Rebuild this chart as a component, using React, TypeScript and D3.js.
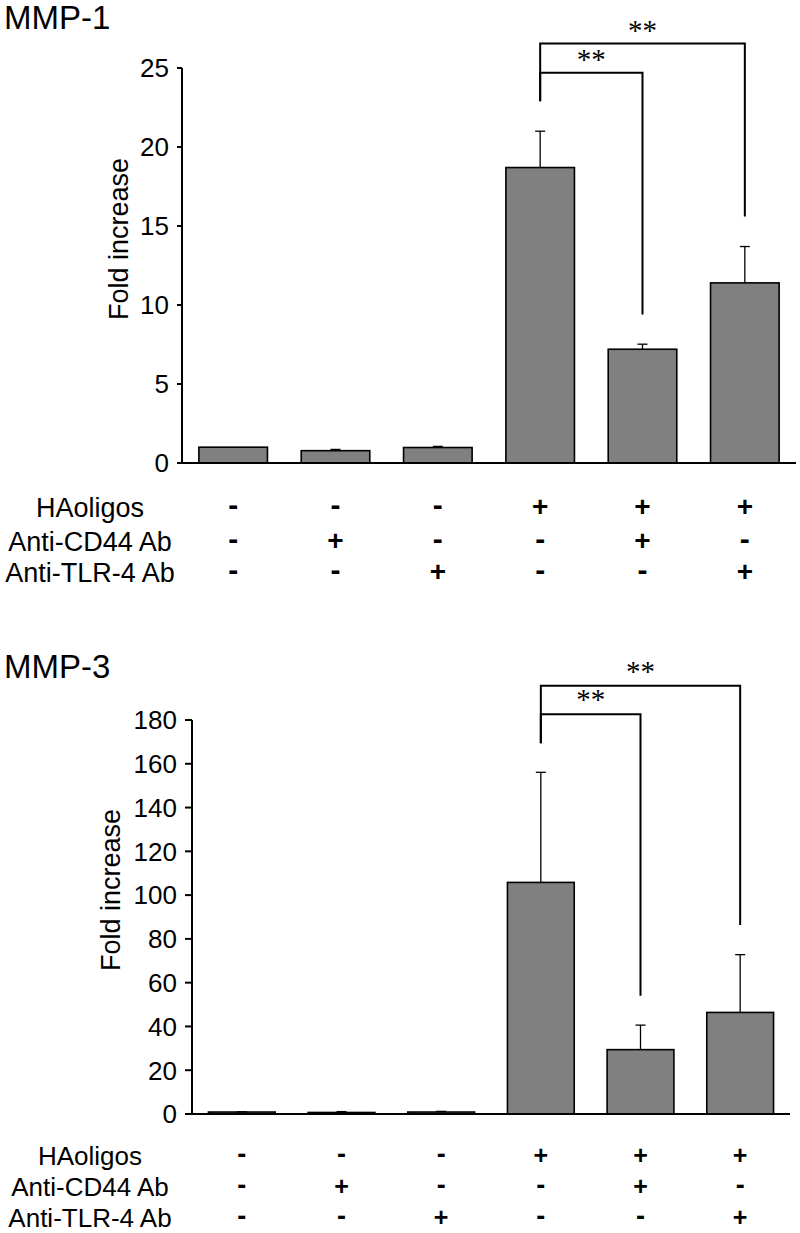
import React from "react";
import * as d3 from "d3";

// ---------- data ----------
const conditions = ["c1", "c2", "c3", "c4", "c5", "c6"];
const rowLabels = ["HAoligos", "Anti-CD44 Ab", "Anti-TLR-4 Ab"];
const haOligos = ["-", "-", "-", "+", "+", "+"];
const antiCD44 = ["-", "+", "-", "-", "+", "-"];
const antiTLR4 = ["-", "-", "+", "-", "-", "+"];

const mmp1Values = [1.0, 0.78, 0.98, 18.7, 7.2, 11.4];
const mmp1Errors = [0.0, 0.08, 0.07, 2.3, 0.32, 2.3];
const mmp1Ticks = [0, 5, 10, 15, 20, 25];

const mmp3Values = [0.9, 0.7, 0.9, 105.8, 29.4, 46.4];
const mmp3Errors = [0.1, 0.4, 0.3, 50.3, 11.2, 26.4];
const mmp3Ticks = [0, 20, 40, 60, 80, 100, 120, 140, 160, 180];

// brackets: [fromIndex, toIndex, levelValue, leftEndValue, rightEndValue, label]
const mmp1Brackets: [number, number, number, number, number, string][] = [
  [3, 4, 24.7, 22.9, 9.4, "**"],
  [3, 5, 26.55, 22.9, 15.6, "**"],
];
const mmp3Brackets: [number, number, number, number, number, string][] = [
  [3, 4, 182.6, 169.4, 54, "**"],
  [3, 5, 195.7, 169.4, 86.4, "**"],
];

const FONT = "'Liberation Sans', Arial, Helvetica, sans-serif";

type PanelProps = {
  title: string;
  titleY: number;
  values: number[];
  errors: number[];
  ticks: number[];
  domainMax: number;
  brackets: [number, number, number, number, number, string][];
  x0: number;
  x1: number;
  yTop: number;
  yBottom: number;
  tickLen: number;
  labelX: number;
  labelY: number;
  rowYs: number[];
  starOffset: number;
  tableFont: number;
  signFont: number;
};

function Panel(p: PanelProps) {
  const x = d3.scaleBand<string>().domain(conditions).range([p.x0, p.x1]).paddingInner(0.33).paddingOuter(0.165);
  const y = d3.scaleLinear().domain([0, p.domainMax]).range([p.yBottom, p.yTop]);
  const cx = (i: number) => (x(conditions[i]) as number) + x.bandwidth() / 2;
  const rows = [haOligos, antiCD44, antiTLR4];
  return (
    <g>
      <text x={4} y={p.titleY} fontFamily={FONT} fontSize={33} fill="#000">{p.title}</text>
      {/* bars */}
      {p.values.map((v, i) => (
        <rect key={"b" + i} x={x(conditions[i])} y={y(v)} width={x.bandwidth()} height={y(0) - y(v)}
          fill="#808080" stroke="#000" strokeWidth={1.6} />
      ))}
      {/* error bars */}
      {p.values.map((v, i) => (
        p.errors[i] > 0 ? (
          <g key={"e" + i} stroke="#000" strokeWidth={1.3}>
            <line x1={cx(i)} x2={cx(i)} y1={y(v)} y2={y(v + p.errors[i])} />
            <line x1={cx(i) - 5} x2={cx(i) + 5} y1={y(v + p.errors[i])} y2={y(v + p.errors[i])} />
          </g>
        ) : null
      ))}
      {/* axes */}
      <line x1={p.x0} x2={p.x0} y1={y(0)} y2={y(p.domainMax)} stroke="#000" strokeWidth={2} />
      <line x1={p.x0 - p.tickLen} x2={p.x1} y1={y(0)} y2={y(0)} stroke="#000" strokeWidth={2} />
      {p.ticks.map((t) => (
        <g key={"t" + t}>
          <line x1={p.x0 - p.tickLen} x2={p.x0} y1={y(t)} y2={y(t)} stroke="#000" strokeWidth={2} />
          <text x={p.x0 - p.tickLen - 8} y={y(t)} dy="0.36em" textAnchor="end" fontFamily={FONT} fontSize={26} fill="#000">{t}</text>
        </g>
      ))}
      <text transform={`translate(${p.labelX},${p.labelY}) rotate(-90)`} textAnchor="middle" dy="0.36em"
        fontFamily={FONT} fontSize={27} fill="#000">Fold increase</text>
      {/* brackets */}
      {p.brackets.map((b, k) => {
        const path = d3.path();
        path.moveTo(cx(b[0]), y(b[3]));
        path.lineTo(cx(b[0]), y(b[2]));
        path.lineTo(cx(b[1]), y(b[2]));
        path.lineTo(cx(b[1]), y(b[4]));
        return (
          <g key={"br" + k}>
            <path d={path.toString()} fill="none" stroke="#000" strokeWidth={2} />
            <text x={(cx(b[0]) + cx(b[1])) / 2} y={y(b[2]) - p.starOffset} textAnchor="middle"
              fontFamily="'Liberation Serif', 'Times New Roman', serif" fontSize={29} fill="#000">{b[5]}</text>
          </g>
        );
      })}
      {/* table */}
      {rowLabels.map((lab, r) => (
        <text key={"rl" + r} x={90} y={p.rowYs[r]} dy="0.36em" textAnchor="middle" fontFamily={FONT}
          fontSize={p.tableFont} fill="#000">{lab}</text>
      ))}
      {rows.map((row, r) => row.map((s, i) => (
        <text key={`s${r}-${i}`} x={cx(i)} y={p.rowYs[r]} dy={s === "+" ? "0.33em" : "0.27em"} textAnchor="middle"
          fontFamily={FONT} fontWeight="bold" fontSize={s === "+" ? p.signFont : p.signFont + 2} fill="#000">{s}</text>
      )))}
    </g>
  );
}

export default function App() {
  return (
    <svg width={800} height={1233} style={{ position: "absolute", left: 0, top: 0, background: "#fff" }}>
      <rect width={800} height={1233} fill="#fff" />
      <Panel title="MMP-1" titleY={29} values={mmp1Values} errors={mmp1Errors} ticks={mmp1Ticks} domainMax={25}
        brackets={mmp1Brackets} x0={182} x1={796} yTop={68} yBottom={463} tickLen={5}
        labelX={118} labelY={239} rowYs={[507, 541, 572]} starOffset={4} tableFont={27} signFont={28} />
      <Panel title="MMP-3" titleY={678} values={mmp3Values} errors={mmp3Errors} ticks={mmp3Ticks} domainMax={180}
        brackets={mmp3Brackets} x0={192} x1={790} yTop={720} yBottom={1114} tickLen={7}
        labelX={110} labelY={890} rowYs={[1156, 1187, 1218]} starOffset={5} tableFont={26} signFont={25} />
    </svg>
  );
}
